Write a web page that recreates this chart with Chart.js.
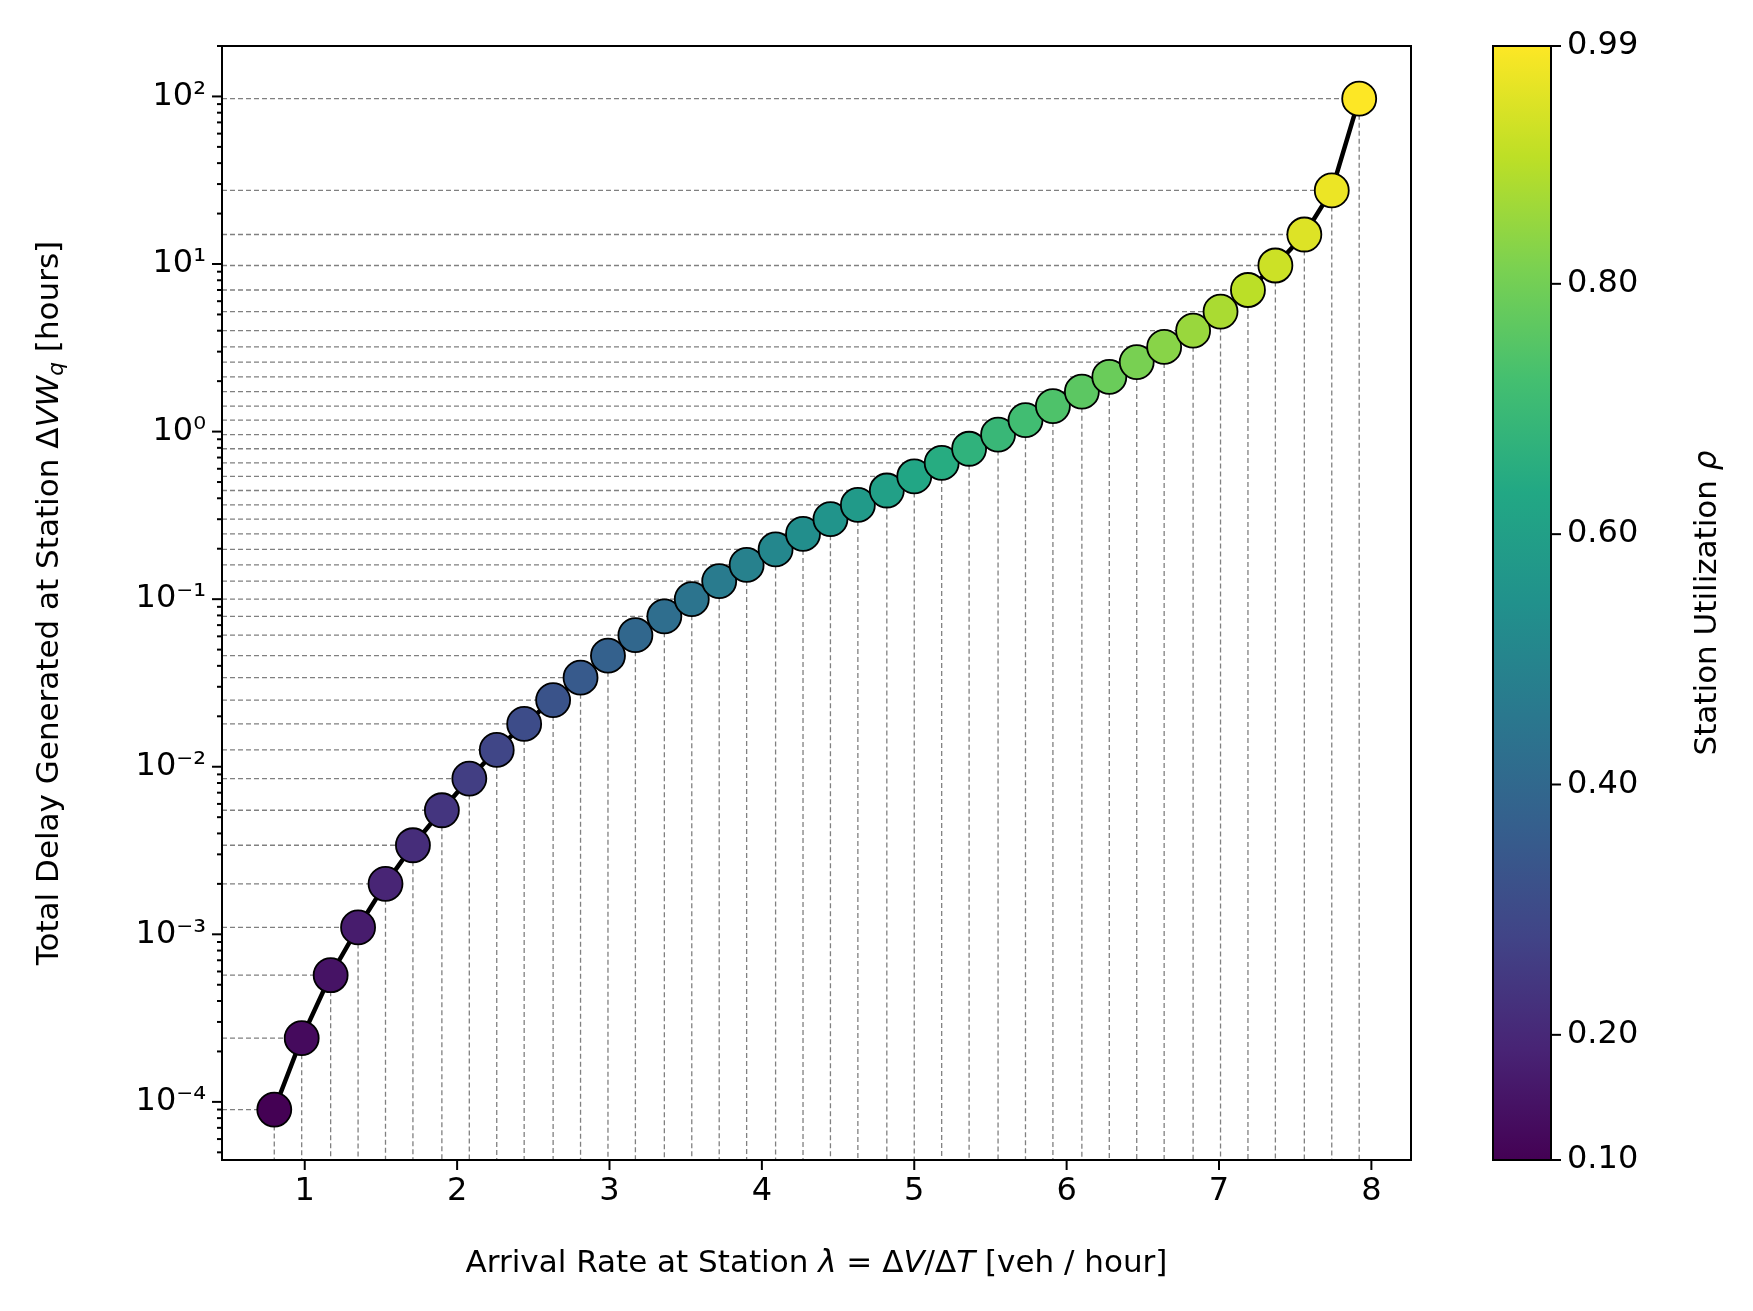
<!DOCTYPE html>
<html>
<head>
<meta charset="utf-8">
<script src="https://cdn.jsdelivr.net/npm/chart.js@4.4.1/dist/chart.umd.min.js"></script>
<style>
  body { margin: 0; background: #fff; }
  canvas { display: block; }
</style>
</head>
<body>
<canvas id="chart" width="1753" height="1311"></canvas>
<script>
// station utilization (colour) and arrival rate per point
var utilization = [0.100, 0.123, 0.146, 0.168, 0.191, 0.214, 0.237, 0.260, 0.283, 0.305,
                   0.328, 0.351, 0.374, 0.397, 0.419, 0.442, 0.465, 0.488, 0.511, 0.534,
                   0.556, 0.579, 0.602, 0.625, 0.648, 0.671, 0.693, 0.716, 0.739, 0.762,
                   0.785, 0.808, 0.830, 0.853, 0.876, 0.899, 0.922, 0.945, 0.967, 0.990];
var arrivalRate = [0.80, 0.98, 1.17, 1.35, 1.53, 1.71, 1.90, 2.08, 2.26, 2.44,
                   2.63, 2.81, 2.99, 3.17, 3.36, 3.54, 3.72, 3.90, 4.09, 4.27,
                   4.45, 4.63, 4.82, 5.00, 5.18, 5.36, 5.55, 5.73, 5.91, 6.10,
                   6.28, 6.46, 6.64, 6.83, 7.01, 7.19, 7.37, 7.56, 7.74, 7.92];
var totalDelay = [9e-5, 2.4e-4, 5.7e-4, 1.1e-3, 2.0e-3, 3.4e-3, 5.5e-3, 8.5e-3, 0.0126, 0.018,
                  0.025, 0.034, 0.046, 0.061, 0.079, 0.10, 0.128, 0.16, 0.198, 0.245,
                  0.30, 0.365, 0.445, 0.54, 0.65, 0.79, 0.96, 1.17, 1.42, 1.73,
                  2.12, 2.6, 3.2, 4.0, 5.2, 7.0, 9.8, 15, 27.5, 97];
var xTicks = [1, 2, 3, 4, 5, 6, 7, 8];
var cbTicks = [0.10, 0.20, 0.40, 0.60, 0.80, 0.99];
var cbMin = 0.10, cbMax = 0.99;

var viridis = ["#440154", "#482475", "#414487", "#355f8d", "#2a788e", "#21918c",
               "#22a884", "#44bf70", "#7ad151", "#bddf26", "#fde725"];

function hexToRgb(h) {
    return [parseInt(h.substr(1, 2), 16), parseInt(h.substr(3, 2), 16), parseInt(h.substr(5, 2), 16)];
}
function viridisColor(t) {
    t = Math.max(0, Math.min(1, t));
    var p = t * (viridis.length - 1);
    var i = Math.min(Math.floor(p), viridis.length - 2);
    var f = p - i;
    var a = hexToRgb(viridis[i]), b = hexToRgb(viridis[i + 1]);
    return "rgb(" + Math.round(a[0] + (b[0] - a[0]) * f) + "," +
        Math.round(a[1] + (b[1] - a[1]) * f) + "," + Math.round(a[2] + (b[2] - a[2]) * f) + ")";
}

var supers = { "-": "⁻", "0": "⁰", "1": "¹", "2": "²", "3": "³", "4": "⁴" };
function powLabel(e) {
    return "10" + String(e).split("").map(function (c) { return supers[c]; }).join("");
}

var points = arrivalRate.map(function (x, i) { return { x: x, y: totalDelay[i] }; });
var pointColors = utilization.map(function (u) { return viridisColor((u - cbMin) / (cbMax - cbMin)); });

var FONT = "'DejaVu Sans', sans-serif";
var TICK = 32, TITLE = 31;

// draw text made of segments, some italic / subscript
function drawRich(ctx, parts, size) {
    var total = 0;
    parts.forEach(function (p) {
        ctx.font = (p.it ? "italic " : "") + (p.sub ? size * 0.7 : size) + "px " + FONT;
        p.w = ctx.measureText(p.t).width;
        total += p.w;
    });
    var x = -total / 2;
    parts.forEach(function (p) {
        ctx.font = (p.it ? "italic " : "") + (p.sub ? size * 0.7 : size) + "px " + FONT;
        ctx.fillText(p.t, x, p.sub ? size * 0.25 : 0);
        x += p.w;
    });
}

var extras = {
    id: "extras",
    beforeDatasetsDraw: function (chart) {
        var ctx = chart.ctx, xs = chart.scales.x, ys = chart.scales.y, a = chart.chartArea;
        ctx.save();
        ctx.strokeStyle = "#808080";
        ctx.lineWidth = 1.3;
        ctx.setLineDash([5, 3]);
        points.forEach(function (p) {
            var px = xs.getPixelForValue(p.x), py = ys.getPixelForValue(p.y);
            ctx.beginPath();
            ctx.moveTo(a.left, py); ctx.lineTo(px, py);
            ctx.moveTo(px, py); ctx.lineTo(px, a.bottom);
            ctx.stroke();
        });
        ctx.restore();
    },
    afterDraw: function (chart) {
        var ctx = chart.ctx, xs = chart.scales.x, ys = chart.scales.y, a = chart.chartArea;
        ctx.save();
        // frame
        ctx.strokeStyle = "#000";
        ctx.lineWidth = 2;
        ctx.strokeRect(a.left, a.top, a.right - a.left, a.bottom - a.top);
        // y ticks, major and minor
        ctx.fillStyle = "#000";
        ctx.font = TICK + "px " + FONT;
        ctx.textAlign = "right";
        ctx.textBaseline = "middle";
        for (var e = -5; e <= 2; e++) {
            for (var m = 1; m <= 9; m++) {
                var v = m * Math.pow(10, e);
                if (v < ys.min || v > ys.max) continue;
                var py = ys.getPixelForValue(v);
                ctx.beginPath();
                ctx.moveTo(a.left, py);
                ctx.lineTo(a.left - (m === 1 ? 10 : 5), py);
                ctx.stroke();
                if (m === 1) ctx.fillText(powLabel(e), a.left - 16, py);
            }
        }
        // x ticks
        ctx.textAlign = "center";
        ctx.textBaseline = "top";
        xTicks.forEach(function (t) {
            var px = xs.getPixelForValue(t);
            ctx.beginPath();
            ctx.moveTo(px, a.bottom); ctx.lineTo(px, a.bottom + 10);
            ctx.stroke();
            ctx.fillText(String(t), px, a.bottom + 16);
        });
        // axis titles
        ctx.textAlign = "left";
        ctx.textBaseline = "middle";
        ctx.save();
        ctx.translate((a.left + a.right) / 2, a.bottom + 104);
        drawRich(ctx, [{ t: "Arrival Rate at Station " }, { t: "λ", it: true }, { t: " = Δ" },
            { t: "V", it: true }, { t: "/Δ" }, { t: "T", it: true }, { t: " [veh / hour]" }], TITLE);
        ctx.restore();
        ctx.save();
        ctx.translate(50, (a.top + a.bottom) / 2);
        ctx.rotate(-Math.PI / 2);
        drawRich(ctx, [{ t: "Total Delay Generated at Station Δ" }, { t: "VW", it: true },
            { t: "q", it: true, sub: true }, { t: " [hours]" }], TITLE);
        ctx.restore();
        // colorbar
        var cl = 1493, cr = 1551, ct = a.top, cb = a.bottom;
        var grad = ctx.createLinearGradient(0, cb, 0, ct);
        viridis.forEach(function (c, i) { grad.addColorStop(i / (viridis.length - 1), c); });
        ctx.fillStyle = grad;
        ctx.fillRect(cl, ct, cr - cl, cb - ct);
        ctx.strokeRect(cl, ct, cr - cl, cb - ct);
        ctx.fillStyle = "#000";
        ctx.font = TICK + "px " + FONT;
        ctx.textAlign = "left";
        cbTicks.forEach(function (t) {
            var py = cb - (t - cbMin) / (cbMax - cbMin) * (cb - ct);
            ctx.beginPath();
            ctx.moveTo(cr, py); ctx.lineTo(cr + 10, py);
            ctx.stroke();
            ctx.fillText(t.toFixed(2), cr + 16, py);
        });
        ctx.save();
        ctx.translate(1708, (ct + cb) / 2);
        ctx.rotate(-Math.PI / 2);
        drawRich(ctx, [{ t: "Station Utilization " }, { t: "ρ", it: true }], TITLE);
        ctx.restore();
        ctx.restore();
    }
};

new Chart(document.getElementById("chart"), {
    type: "scatter",
    data: {
        datasets: [{
            data: points,
            showLine: true,
            borderColor: "#000",
            borderWidth: 4.5,
            pointRadius: 17,
            pointHoverRadius: 17,
            pointBackgroundColor: pointColors,
            pointBorderColor: "#000",
            pointBorderWidth: 1.8
        }]
    },
    options: {
        responsive: false,
        animation: false,
        devicePixelRatio: 1,
        layout: { padding: { left: 0, right: 342, top: 46, bottom: 0 } },
        plugins: { legend: { display: false }, tooltip: { enabled: false } },
        scales: {
            x: {
                type: "linear", min: 0.457, max: 8.26,
                grid: { display: false }, border: { display: false },
                ticks: { display: false },
                afterFit: function (s) { s.height = 151; }
            },
            y: {
                type: "logarithmic", min: 4.5e-5, max: 200,
                grid: { display: false }, border: { display: false },
                ticks: { display: false },
                afterFit: function (s) { s.width = 222; }
            }
        }
    },
    plugins: [extras]
});
</script>
</body>
</html>
